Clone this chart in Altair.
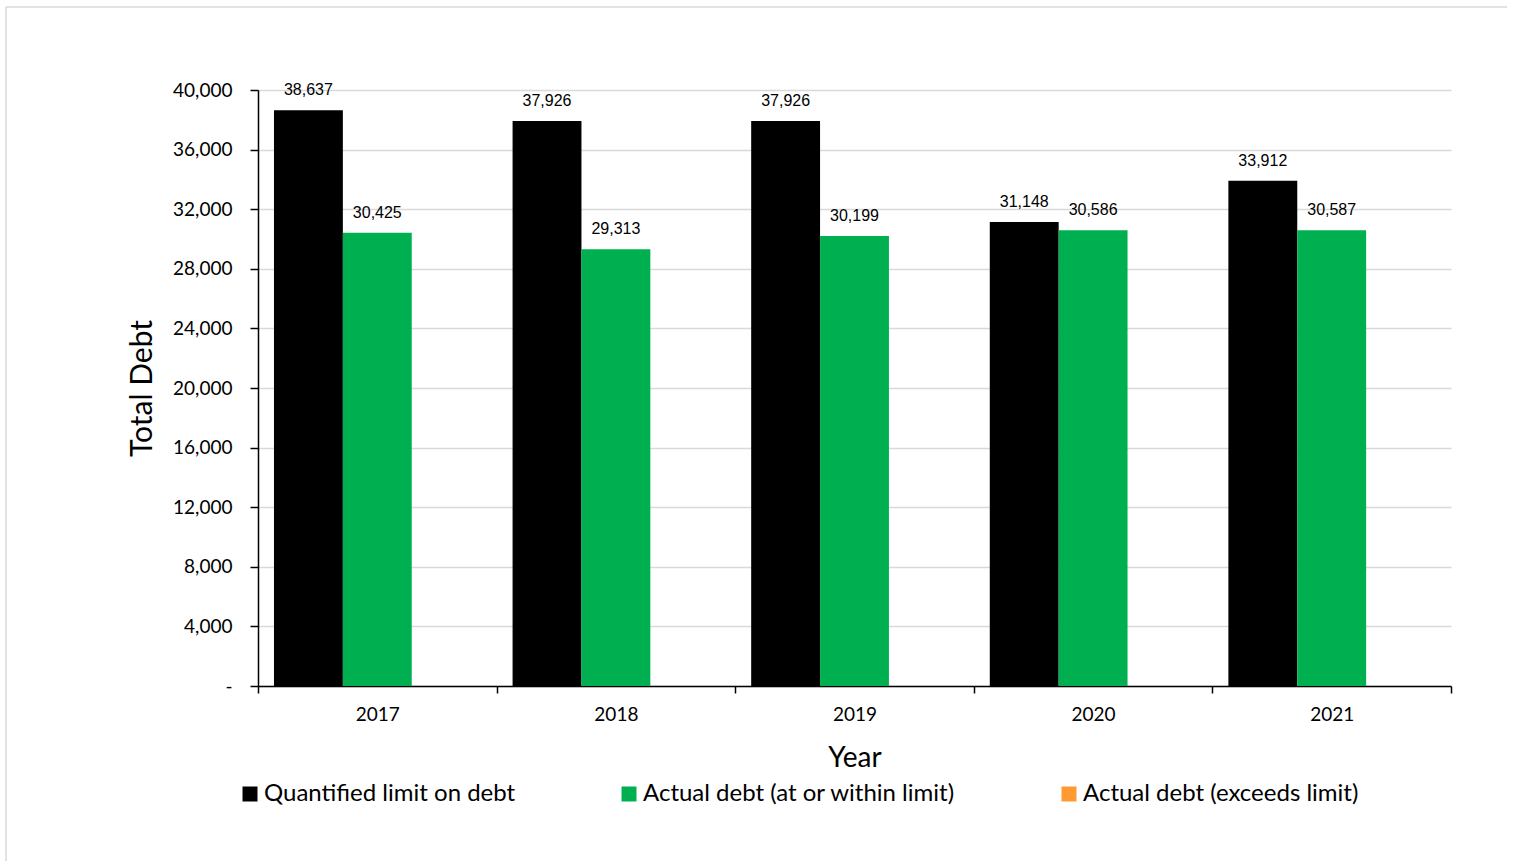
import altair as alt
import pandas as pd

years = ["2017", "2018", "2019", "2020", "2021"]
series = ["Quantified limit on debt", "Actual debt (at or within limit)", "Actual debt (exceeds limit)"]
colors = ["#000000", "#00B050", "#FF9933"]
limit_vals = [38637, 37926, 37926, 31148, 33912]
actual_vals = [30425, 29313, 30199, 30586, 30587]

rows = []
for y, v in zip(years, limit_vals):
    rows.append({"Year": y, "Series": series[0], "Debt": v})
for y, v in zip(years, actual_vals):
    rows.append({"Year": y, "Series": series[1], "Debt": v})
df = pd.DataFrame(rows)

W, H = 1193, 596
FONT = "Lato"

x = alt.X("Year:N", title="Year",
          scale=alt.Scale(paddingInner=0, paddingOuter=0),
          axis=alt.Axis(labelAngle=0, tickBand="extent", labelFont=FONT, labelFontSize=19,
                        labelColor="#000000", labelPadding=12, tickSize=7, tickColor="#000000",
                        tickWidth=1.5, domainColor="#000000", domainWidth=1.5,
                        titleFont=FONT, titleFontSize=28, titleFontWeight="normal",
                        titleColor="#000000", titlePadding=20, grid=False))
xo = alt.XOffset("Series:N", scale=alt.Scale(domain=series, paddingOuter=0.232, paddingInner=0))
y = alt.Y("Debt:Q", title="Total Debt",
          scale=alt.Scale(domain=[0, 40000], nice=False),
          axis=alt.Axis(values=list(range(0, 40001, 4000)),
                        labelExpr="datum.value == 0 ? '-' : format(datum.value, ',')",
                        labelFont=FONT, labelFontSize=19, labelColor="#000000", labelPadding=18,
                        tickSize=8, tickColor="#000000", tickWidth=1.5,
                        domainColor="#000000", domainWidth=1.5,
                        gridColor="#d9d9d9", gridWidth=1.5,
                        titleFont=FONT, titleFontSize=30, titleFontWeight="normal",
                        titleColor="#000000", titlePadding=15))
color = alt.Color("Series:N", title=None,
                  scale=alt.Scale(domain=series, range=colors),
                  legend=alt.Legend(orient="none", legendX=-20, legendY=692, direction="horizontal",
                                    symbolType="square", symbolSize=225, symbolStrokeWidth=0,
                                    labelFont=FONT, labelFontSize=24, labelColor="#000000",
                                    labelOffset=2, columnPadding=101, labelLimit=600))

bars = alt.Chart(df).mark_bar().encode(x=x, xOffset=xo, y=y, color=color)
labels = alt.Chart(df).mark_text(font="Liberation Sans", fontSize=16, baseline="alphabetic",
                                 dy=-15, color="#000000").encode(
    x=x, xOffset=xo, y=y, text=alt.Text("Debt:Q", format=","))

frame = alt.Data(values=[{}])
border_top = alt.Chart(frame).mark_rule(stroke="#d9d9d9", strokeWidth=1.5).encode(
    x=alt.value(-252), x2=alt.value(1249), y=alt.value(-83))
border_left = alt.Chart(frame).mark_rule(stroke="#d9d9d9", strokeWidth=1.5).encode(
    x=alt.value(-252), y=alt.value(-83), y2=alt.value(800))

chart = alt.layer(border_top, border_left, bars, labels).properties(
    width=W, height=H,
    padding={"left": 258, "top": 90, "right": 64, "bottom": 175},
    autosize=alt.AutoSizeParams(type="none"),
    background="#ffffff",
).configure_view(stroke=None)

chart.save("out.html", embed_options={"renderer": "svg", "actions": False})
